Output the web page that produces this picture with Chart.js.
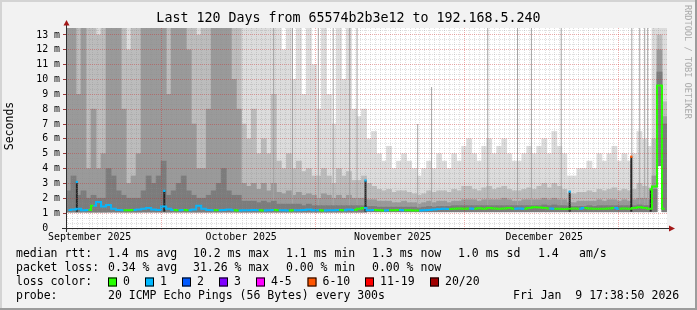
<!DOCTYPE html>
<html>
<head>
<meta charset="utf-8">
<title>Last 120 Days</title>
<script src="https://cdn.jsdelivr.net/npm/chart.js@4.4.1/dist/chart.umd.min.js"></script>
<style>
  html, body { margin: 0; padding: 0; background: #f2f2f2; }
  canvas { display: block; }
</style>
</head>
<body>
<canvas id="smoke" width="697" height="310"></canvas>
<script>
'use strict';

// time range of the graph
const endTime = new Date(2026, 0, 9, 17, 38, 50);
const spanDays = 120;
const startTime = new Date(endTime.getTime() - spanDays * 86400000);

const monthNames = ['September 2025', 'October 2025', 'November 2025', 'December 2025'];
const monthFirst = [new Date(2025, 8, 1), new Date(2025, 9, 1), new Date(2025, 10, 1), new Date(2025, 11, 1), new Date(2026, 0, 1)];

const yMax = 13.47;
const yLabelValues = [0, 1, 2, 3, 4, 5, 6, 7, 8, 9, 10, 11, 12, 13];

// smoke, one value per day (ms): bottom of the smoke and tops of the four grey bands
const smokeFloor = [
  1.08, 1.08, 1.08, 1.08, 1.08, 1.08, 1.08, 1.08, 1.08, 1.08,
  1.08, 1.08, 1.08, 1.08, 1.08, 1.08, 1.08, 1.08, 1.08, 1.08,
  1.08, 1.08, 1.08, 1.08, 1.08, 1.08, 1.08, 1.08, 1.08, 1.08,
  1.08, 1.08, 1.08, 1.08, 1.08, 1.08, 1.08, 1.08, 1.08, 1.08,
  1.08, 1.08, 1.08, 1.08, 1.08, 1.08, 1.08, 1.08, 1.08, 1.08,
  1.08, 1.08, 1.08, 1.08, 1.08, 1.08, 1.08, 1.08, 1.08, 1.08,
  1.1, 1.1, 1.1, 1.1, 1.1, 1.1, 1.1, 1.1, 1.1, 1.1,
  1.1, 1.1, 1.1, 1.1, 1.1, 1.1, 1.1, 1.1, 1.1, 1.1,
  1.1, 1.1, 1.1, 1.1, 1.1, 1.1, 1.1, 1.1, 1.1, 1.1,
  1.1, 1.1, 1.1, 1.1, 1.1, 1.1, 1.1, 1.1, 1.1, 1.1,
  1.1, 1.1, 1.1, 1.1, 1.1, 1.1, 1.1, 1.1, 1.1, 1.1,
  1.1, 1.1, 1.1, 1.1, 1.1, 1.1, 1.1, 1.1, 4.2, 1.1
];
const smokeTop1 = [
  14, 14, 14, 14, 14, 14, 14, 14, 14, 14,
  14, 14, 14, 14, 14, 14, 14, 14, 14, 14,
  14, 14, 14, 14, 14, 14, 14, 14, 14, 14,
  14, 14, 14, 14, 14, 14, 14, 14, 14, 14,
  14, 14, 14, 12, 14, 10, 14, 9, 14, 11,
  8, 14, 9, 7, 14, 10, 14, 8, 7.5, 8,
  6, 6.5, 5, 4.5, 5.5, 4, 4.5, 5, 4.5, 4,
  3.5, 4, 4.5, 4, 5, 4.5, 4, 5, 4.5, 5.5,
  6, 5, 4.5, 5.5, 6, 5, 5.5, 6, 5, 4.5,
  4.5, 5, 5.5, 5, 5.5, 6, 5, 6.5, 5.5, 5,
  3.5, 3.5, 4, 4, 4.5, 4, 5, 4.5, 5, 5.5,
  4.5, 5, 4.5, 5, 6.5, 6, 5.5, 14, 14, 14
];
const smokeTop2 = [
  14, 14, 14, 14, 14, 14, 13, 14, 14, 14,
  14, 14, 12, 14, 14, 14, 14, 14, 14, 14,
  14, 14, 14, 14, 14, 14, 13, 14, 14, 14,
  14, 14, 14, 14, 14, 7, 6, 8, 5, 6,
  5, 9, 4.5, 4, 5, 4, 4.5, 3.8, 4, 3.5,
  3.5, 4, 3.5, 3, 4, 3.5, 3.8, 3.2, 3.2, 3.5,
  3, 2.8, 2.6, 2.5, 2.6, 2.4, 2.5, 2.5, 2.4, 2.3,
  2.2, 2.3, 2.5, 2.4, 2.5, 2.5, 2.4, 2.6, 2.5, 2.8,
  2.8, 2.6, 2.5, 2.7, 2.8, 2.6, 2.7, 2.8, 2.6, 2.5,
  2.5, 2.6, 2.7, 2.6, 2.8, 3, 2.7, 3, 2.8, 2.6,
  2.3, 2.3, 2.4, 2.4, 2.5, 2.4, 2.6, 2.5, 2.6, 2.7,
  2.5, 2.6, 2.5, 2.6, 3, 2.8, 2.7, 6, 13, 8.5
];
const smokeTop3 = [
  14, 14, 9, 14, 4, 8, 4, 5, 14, 14,
  14, 8, 3, 3.5, 5, 14, 14, 14, 14, 14,
  9, 14, 14, 14, 12, 7, 4, 4, 8, 14,
  14, 14, 14, 10, 8, 3, 2.8, 3, 2.6, 3,
  2.5, 3, 2.4, 2.3, 2.5, 2.2, 2.4, 2.2, 2.3, 2.2,
  2, 2.3, 2.2, 2, 2.2, 2, 2.2, 2, 2, 2,
  1.9, 1.9, 1.8, 1.8, 1.8, 1.7, 1.7, 1.8, 1.7, 1.7,
  1.6, 1.7, 1.8, 1.7, 1.8, 1.8, 1.7, 1.8, 1.8, 1.9,
  1.9, 1.9, 1.8, 1.9, 1.9, 1.9, 1.9, 2, 1.9, 1.8,
  1.8, 1.9, 1.9, 1.9, 1.9, 2, 1.9, 2, 1.9, 1.9,
  1.7, 1.7, 1.8, 1.8, 1.8, 1.8, 1.9, 1.8, 1.9, 1.9,
  1.8, 1.9, 1.8, 1.9, 2, 2, 1.9, 3.5, 12, 7.5
];
const smokeTop4 = [
  2.5, 3.5, 2.2, 2.5, 2, 2.2, 2, 2, 4, 3.5,
  2.5, 2.2, 2, 2, 2, 2.5, 3.5, 3, 3.5, 4.5,
  2.2, 2.5, 3, 3.5, 2.5, 2.2, 2, 2, 2.2, 2.5,
  3, 4, 2.5, 2.2, 2.2, 1.8, 1.8, 1.8, 1.7, 1.8,
  1.7, 1.8, 1.6, 1.6, 1.6, 1.6, 1.6, 1.5, 1.6, 1.5,
  1.5, 1.5, 1.5, 1.5, 1.5, 1.5, 1.5, 1.5, 1.5, 1.5,
  1.45, 1.45, 1.4, 1.4, 1.4, 1.4, 1.4, 1.4, 1.4, 1.4,
  1.35, 1.4, 1.45, 1.4, 1.45, 1.45, 1.45, 1.5, 1.5, 1.5,
  1.5, 1.5, 1.5, 1.5, 1.5, 1.5, 1.5, 1.5, 1.5, 1.5,
  1.5, 1.5, 1.5, 1.5, 1.5, 1.55, 1.5, 1.55, 1.5, 1.5,
  1.45, 1.45, 1.45, 1.45, 1.5, 1.45, 1.5, 1.5, 1.5, 1.5,
  1.5, 1.5, 1.5, 1.5, 1.55, 1.5, 1.5, 2.6, 10.5, 7
];

// median rtt per day (ms) and loss class per day (index into lossColors)
const medianRtt = [
  1.22, 1.25, 1.3, 1.2, 1.22, 1.5, 1.75, 1.45, 1.55, 1.3,
  1.22, 1.2, 1.2, 1.22, 1.25, 1.3, 1.35, 1.25, 1.22, 1.45,
  1.3, 1.22, 1.2, 1.22, 1.2, 1.25, 1.5, 1.3, 1.22, 1.2,
  1.2, 1.22, 1.25, 1.2, 1.18, 1.2, 1.2, 1.22, 1.2, 1.18,
  1.2, 1.22, 1.2, 1.2, 1.18, 1.2, 1.2, 1.22, 1.25, 1.2,
  1.2, 1.18, 1.2, 1.2, 1.22, 1.2, 1.25, 1.22, 1.3, 1.35,
  1.2, 1.22, 1.2, 1.18, 1.2, 1.2, 1.22, 1.2, 1.2, 1.18,
  1.18, 1.2, 1.22, 1.25, 1.28, 1.3, 1.28, 1.3, 1.32, 1.3,
  1.32, 1.3, 1.33, 1.3, 1.35, 1.32, 1.3, 1.32, 1.35, 1.3,
  1.32, 1.3, 1.35, 1.4, 1.38, 1.35, 1.32, 1.3, 1.3, 1.28,
  1.3, 1.32, 1.3, 1.35, 1.32, 1.3, 1.3, 1.3, 1.32, 1.35,
  1.3, 1.32, 1.3, 1.35, 1.4, 1.35, 1.3, 2.8, 9.6, 1.3
];
const lossIdx = [
  1, 1, 1, 1, 0, 1, 1, 1, 1, 1,
  1, 0, 0, 1, 1, 1, 1, 1, 1, 1,
  1, 0, 1, 0, 1, 1, 1, 1, 1, 0,
  1, 1, 1, 0, 1, 1, 1, 1, 0, 1,
  1, 0, 1, 1, 0, 1, 1, 1, 1, 1,
  0, 1, 1, 1, 0, 1, 1, 0, 0, 1,
  1, 0, 0, 1, 0, 0, 1, 0, 0, 0,
  1, 1, 1, 1, 1, 1, 0, 0, 0, 0,
  1, 0, 0, 0, 0, 0, 0, 0, 0, 1,
  1, 0, 0, 0, 0, 0, 1, 0, 0, 0,
  0, 0, 1, 0, 0, 0, 0, 0, 0, 1,
  0, 0, 0, 0, 0, 0, 0, 0, 0, 0
];

// thin grey streaks (day offset, top in ms)
const streakDay = [41.3, 45.1, 50.3, 53.3, 56.6, 58.1, 70.3, 73.1, 84.4, 90.4, 93.2, 99.2, 113.4, 115.0, 116.0, 116.6];
const streakTop = [14, 14, 14, 14, 14, 14, 7, 9.5, 14, 14, 14, 14, 14, 14, 14, 14];

// dark narrow spikes (day offset, top in ms, loss class at the top)
const spikeDay = [1.7, 19.3, 59.8, 100.9, 113.3, 117.2];
const spikeTop = [3.1, 2.5, 3.2, 2.45, 4.8, 2.6];
const spikeLoss = [1, 1, 1, 1, 5, 0];

const lossColors = ['#26ff00', '#00b8ff', '#0059ff', '#7e00ff', '#ff00ff', '#ff5500', '#ff0000', '#a10000'];
const lossNames = ['0', '1', '2', '3', '4-5', '6-10', '11-19', '20/20'];
const smokeShades = ['#dcdcdc', '#bcbcbc', '#9a9a9a', '#7c7c7c'];

const mono = '"DejaVu Sans Mono", monospace';
const gridGrey = 'rgba(140,140,140,0.28)';
const gridRed = 'rgba(205,40,40,0.38)';

function toDay(d) {
  return (d.getTime() - startTime.getTime()) / 86400000;
}

// x ticks: a grid line every midnight, red ones on the first of a month, labels centred in each month
let xTickList = [];
const firstMidnight = new Date(startTime.getFullYear(), startTime.getMonth(), startTime.getDate() + 1);
for (let t = toDay(firstMidnight); t <= spanDays; t += 1) {
  let isMonth = monthFirst.some(m => Math.abs(toDay(m) - t) < 0.05);
  xTickList.push({ value: t, kind: isMonth ? 'major' : 'minor', label: '' });
}
for (let i = 0; i < monthNames.length; i++) {
  let mid = (toDay(monthFirst[i]) + toDay(monthFirst[i + 1])) / 2;
  xTickList.push({ value: mid, kind: 'label', label: monthNames[i] });
}
xTickList.sort((a, b) => a.value - b.value);

// y ticks: minor lines every third, labels on whole values
let yTickList = [];
for (let k = 0; k / 3 <= yMax; k++) {
  let v = k / 3;
  let isLabel = k % 3 === 0 && yLabelValues.includes(k / 3);
  yTickList.push({ value: v, kind: k === 0 ? 'zero' : (isLabel ? 'major' : 'minor'), label: isLabel ? (k === 0 ? '0  ' : (k / 3) + ' m') : '' });
}

function gridColor(list, i) {
  let t = list[i];
  if (!t || t.kind === 'label' || t.kind === 'zero') return 'rgba(0,0,0,0)';
  return t.kind === 'major' ? gridRed : gridGrey;
}

const dayIndex = medianRtt.map((v, i) => i);

let datasets = [];
const layerTops = [smokeTop1, smokeTop2, smokeTop3, smokeTop4];
for (let k = 0; k < layerTops.length; k++) {
  datasets.push({
    type: 'bar',
    xAxisID: 'x',
    data: layerTops[k].map((top, i) => [smokeFloor[i], top]),
    backgroundColor: smokeShades[k],
    borderWidth: 0,
    grouped: false,
    barPercentage: 1,
    categoryPercentage: 1,
    inflateAmount: 0.4,
    clip: 0,
    order: 20 - k * 2
  });
}
datasets.push({
  type: 'bar',
  xAxisID: 'xt',
  data: streakDay.map((d, i) => ({ x: d, y: [1.1, streakTop[i]] })),
  backgroundColor: '#a4a4a4',
  borderWidth: 0,
  grouped: false,
  barThickness: 1,
  inflateAmount: 0,
  clip: 0,
  order: 15
});
datasets.push({
  type: 'bar',
  xAxisID: 'xt',
  data: spikeDay.map((d, i) => ({ x: d, y: [1.1, spikeTop[i]] })),
  backgroundColor: '#262626',
  borderWidth: 0,
  grouped: false,
  barThickness: 2,
  inflateAmount: 0,
  clip: 0,
  order: 5
});
datasets.push({
  type: 'scatter',
  xAxisID: 'xt',
  data: spikeDay.map((d, i) => ({ x: d, y: spikeTop[i] })),
  pointStyle: 'rect',
  pointRadius: 1.6,
  borderWidth: 0,
  backgroundColor: spikeLoss.map(l => lossColors[l]),
  clip: 0,
  order: 2
});
datasets.push({
  type: 'line',
  xAxisID: 'x',
  data: medianRtt,
  borderColor: lossColors[0],
  borderWidth: 2,
  pointRadius: 0,
  stepped: 'middle',
  segment: {
    borderColor: c => lossColors[lossIdx[c.p0DataIndex]]
  },
  clip: 0,
  order: 1
});

function drawText(ctx, s, x, y, size, align) {
  ctx.font = size + 'px ' + mono;
  ctx.textAlign = align || 'left';
  ctx.textBaseline = 'middle';
  ctx.fillText(s, x, y);
}

const statRows = [
  { y: 254, items: [['median rtt:', 16], ['1.4 ms avg', 108], ['10.2 ms max', 193], ['1.1 ms min', 286], ['1.3 ms now', 372], ['1.0 ms sd', 458], ['1.4', 538], ['am/s', 579]] },
  { y: 268, items: [['packet loss:', 16], ['0.34 % avg', 108], ['31.26 % max', 193], ['0.00 % min', 286], ['0.00 % now', 372]] },
  { y: 296, items: [['probe:', 16], ['20 ICMP Echo Pings (56 Bytes) every 300s', 108], ['Fri Jan  9 17:38:50 2026', 513]] }
];
const lossBoxX = [108, 145, 182, 219, 256, 307.5, 365, 430];

const rrdFrame = {
  id: 'rrdFrame',
  beforeDraw(chart) {
    const { ctx, width, height, chartArea: a } = chart;
    ctx.save();
    ctx.fillStyle = '#f2f2f2';
    ctx.fillRect(0, 0, width, height);
    ctx.fillStyle = '#d4d4d4';
    ctx.fillRect(0, 0, width, 2);
    ctx.fillRect(0, 0, 2, height);
    ctx.fillStyle = '#9c9c9c';
    ctx.fillRect(0, height - 2, width, 2);
    ctx.fillRect(width - 2, 0, 2, height);
    ctx.fillStyle = '#ffffff';
    ctx.fillRect(a.left, a.top, a.right - a.left, a.bottom - a.top);
    ctx.restore();
  },
  afterDraw(chart) {
    const { ctx, chartArea: a } = chart;
    ctx.save();
    // axes and arrows
    ctx.strokeStyle = '#2e2e2e';
    ctx.lineWidth = 1;
    ctx.beginPath();
    ctx.moveTo(a.left - 4, a.bottom + 0.5);
    ctx.lineTo(a.right + 3, a.bottom + 0.5);
    ctx.moveTo(a.left + 0.5, a.bottom + 4);
    ctx.lineTo(a.left + 0.5, a.top - 4);
    ctx.stroke();
    ctx.fillStyle = '#a31818';
    ctx.beginPath();
    ctx.moveTo(a.right + 2, a.bottom - 2.5);
    ctx.lineTo(a.right + 8, a.bottom + 0.5);
    ctx.lineTo(a.right + 2, a.bottom + 3.5);
    ctx.fill();
    ctx.beginPath();
    ctx.moveTo(a.left - 2.5, a.top - 2.5);
    ctx.lineTo(a.left + 0.5, a.top - 8);
    ctx.lineTo(a.left + 3.5, a.top - 2.5);
    ctx.fill();

    ctx.fillStyle = '#000';
    drawText(ctx, 'Last 120 Days from 65574b2b3e12 to 192.168.5.240', 348.5, 19, 13.3, 'center');

    ctx.save();
    ctx.translate(10, 126);
    ctx.rotate(-Math.PI / 2);
    drawText(ctx, 'Seconds', 0, 0, 11.5, 'center');
    ctx.restore();

    ctx.save();
    ctx.translate(687.5, 5);
    ctx.rotate(Math.PI / 2);
    ctx.fillStyle = '#ababab';
    drawText(ctx, 'RRDTOOL / TOBI OETIKER', 0, 0, 8.6, 'left');
    ctx.restore();

    for (const row of statRows) {
      for (const [s, x] of row.items) drawText(ctx, s, x, row.y, 11.5, 'left');
    }
    drawText(ctx, 'loss color:', 16, 282, 11.5, 'left');
    for (let i = 0; i < lossNames.length; i++) {
      let bx = lossBoxX[i];
      ctx.fillStyle = lossColors[i];
      ctx.fillRect(bx, 277.5, 9, 9);
      ctx.strokeStyle = '#000';
      ctx.strokeRect(bx + 0.5, 277.5 + 0.5, 8, 8);
      ctx.fillStyle = '#000';
      drawText(ctx, lossNames[i], bx + 15, 282, 11.5, 'left');
    }
    ctx.restore();
  }
};

new Chart(document.getElementById('smoke'), {
  type: 'bar',
  data: { labels: dayIndex, datasets: datasets },
  options: {
    responsive: false,
    animation: false,
    devicePixelRatio: 1,
    layout: { padding: { left: 0, right: 30, top: 28, bottom: 0 } },
    plugins: { legend: { display: false }, tooltip: { enabled: false } },
    scales: {
      x: { type: 'category', display: false, offset: true },
      xt: {
        type: 'linear',
        position: 'bottom',
        min: 0,
        max: spanDays,
        afterBuildTicks: s => { s.ticks = xTickList.map(t => ({ value: t.value })); },
        afterFit: s => { s.height = 82; },
        grid: {
          z: 1,
          lineWidth: 1,
          color: c => gridColor(xTickList, c.index),
          drawTicks: true,
          tickLength: 2,
          tickColor: c => gridColor(xTickList, c.index)
        },
        border: { display: false, dash: [1, 1] },
        ticks: {
          autoSkip: false,
          maxRotation: 0,
          minRotation: 0,
          padding: 1,
          color: '#000',
          font: { family: mono, size: 9.9 },
          callback: (v, i) => xTickList[i] ? xTickList[i].label : ''
        }
      },
      y: {
        type: 'linear',
        position: 'left',
        min: 0,
        max: yMax,
        afterBuildTicks: s => { s.ticks = yTickList.map(t => ({ value: t.value })); },
        afterFit: s => { s.width = 66; },
        grid: {
          z: 1,
          lineWidth: 1,
          color: c => gridColor(yTickList, c.index),
          drawTicks: true,
          tickLength: 3,
          tickColor: c => yTickList[c.index] && yTickList[c.index].kind === 'major' ? '#9a3a3a' : 'rgba(0,0,0,0)'
        },
        border: { display: false, dash: [1, 1] },
        ticks: {
          autoSkip: false,
          padding: 3,
          color: '#000',
          font: { family: mono, size: 9.9 },
          callback: (v, i) => yTickList[i] ? yTickList[i].label : ''
        }
      }
    }
  },
  plugins: [rrdFrame]
});
</script>
</body>
</html>
